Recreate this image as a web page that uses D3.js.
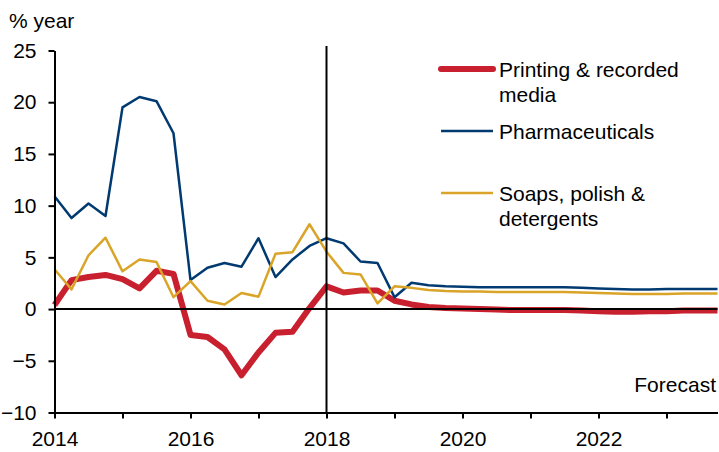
<!DOCTYPE html>
<meta charset="utf-8">
<title>Manufacturing output growth</title>
<style>
body { margin: 0; background: #fff; }
text { font-family: Arial, "Liberation Sans", sans-serif; fill: #000; }
.axis path, .axis line { stroke: #000; stroke-width: 2px; }
.axis text { font-size: 21px; }
.series { fill: none; stroke-linejoin: round; }
</style>
<svg width="719" height="452"></svg>
<script src="https://d3js.org/d3.v7.min.js"></script>
<script>

// quarterly, 2014 Q1 .. 2023 Q4 (forecast after 2018)
var quarters = d3.range(40).map(function(i) { return 2014 + i / 4; });

var printing = [0.4, 2.8, 3.1, 3.3, 2.9, 2.0, 3.7, 3.4,
  -2.5, -2.7, -3.9, -6.4, -4.2, -2.3, -2.2, 0.1,
  2.2, 1.6, 1.8, 1.8, 0.8, 0.45, 0.2, 0.1,
  0.05, 0.0, -0.05, -0.1, -0.1, -0.1, -0.1, -0.15,
  -0.2, -0.25, -0.25, -0.2, -0.2, -0.15, -0.15, -0.15];

var pharma = [10.9, 8.8, 10.2, 9.0, 19.5, 20.5, 20.1, 17.0,
  2.8, 4.0, 4.45, 4.1, 6.85, 3.1, 4.8, 6.1,
  6.85, 6.35, 4.6, 4.45, 1.15, 2.55, 2.3, 2.2,
  2.15, 2.1, 2.1, 2.1, 2.1, 2.1, 2.1, 2.05,
  2.0, 1.95, 1.9, 1.9, 1.95, 1.95, 1.95, 1.95];

var soaps = [3.85, 1.9, 5.2, 6.9, 3.65, 4.8, 4.55, 1.15,
  2.7, 0.8, 0.45, 1.55, 1.2, 5.35, 5.5, 8.2,
  5.55, 3.5, 3.35, 0.55, 2.2, 2.05, 1.85, 1.75,
  1.7, 1.7, 1.65, 1.65, 1.65, 1.65, 1.65, 1.6,
  1.55, 1.5, 1.45, 1.45, 1.45, 1.5, 1.5, 1.5];

var yTicks = [-10, -5, 0, 5, 10, 15, 20, 25];
var xTicks = d3.range(2014, 2024);

var series = [
  {name: ["Printing & recorded", "media"], values: printing, color: "#c8202e", width: 6},
  {name: ["Pharmaceuticals"], values: pharma, color: "#003a70", width: 2.5},
  {name: ["Soaps, polish &", "detergents"], values: soaps, color: "#d9a428", width: 2.5}
];

var svg = d3.select("svg");

var x = d3.scaleLinear().domain([2014, 2023.75]).range([54.5, 717.5]);
var y = d3.scaleLinear().domain([-10, 25]).range([412.5, 50.5]);

var line = d3.line()
    .x(function(d) { return x(d[0]); })
    .y(function(d) { return y(d[1]); });

svg.selectAll(".series")
  .data(series)
  .enter().append("path")
    .attr("class", "series")
    .attr("stroke", function(d) { return d.color; })
    .attr("stroke-width", function(d) { return d.width; })
    .attr("d", function(d) { return line(d3.zip(quarters, d.values)); });

// zero line and forecast divider
svg.append("line")
    .attr("x1", x(2014)).attr("x2", x(2023.75))
    .attr("y1", y(0)).attr("y2", y(0))
    .attr("stroke", "#000").attr("stroke-width", 2);

svg.append("line")
    .attr("x1", x(2018)).attr("x2", x(2018))
    .attr("y1", 46).attr("y2", y(-10))
    .attr("stroke", "#000").attr("stroke-width", 2);

svg.append("g")
    .attr("class", "axis")
    .attr("transform", "translate(" + x(2014) + ",0)")
    .call(d3.axisLeft(y).tickValues(yTicks).tickSize(6).tickSizeOuter(0).tickPadding(12))
  .selectAll("text")
    .attr("x", -18);

svg.append("g")
    .attr("class", "axis")
    .attr("transform", "translate(0," + y(-10) + ")")
    .call(d3.axisBottom(x).tickValues(xTicks).tickSize(6).tickSizeOuter(0).tickPadding(13)
      .tickFormat(function(d) { return d % 2 == 0 ? d : ""; }));

svg.append("text")
    .attr("x", 9).attr("y", 28)
    .style("font-size", "21px")
    .text("% year");

svg.append("text")
    .attr("x", 716).attr("y", 391.5)
    .attr("text-anchor", "end")
    .style("font-size", "21px")
    .text("Forecast");

// legend
var legendY = [69, 131, 193];

var legend = svg.selectAll(".legend")
  .data(series)
  .enter().append("g")
    .attr("class", "legend")
    .attr("transform", function(d, i) { return "translate(0," + legendY[i] + ")"; });

legend.append("line")
    .attr("x1", 441).attr("x2", 493)
    .attr("stroke", function(d) { return d.color; })
    .attr("stroke-width", function(d) { return d.width; })
    .attr("stroke-linecap", function(d) { return d.width > 4 ? "round" : "butt"; });

legend.append("text")
    .style("font-size", "21px")
  .selectAll("tspan")
  .data(function(d) { return d.name; })
  .enter().append("tspan")
    .attr("x", 499)
    .attr("y", function(d, i) { return 7.5 + i * 25; })
    .text(function(d) { return d; });

</script>
